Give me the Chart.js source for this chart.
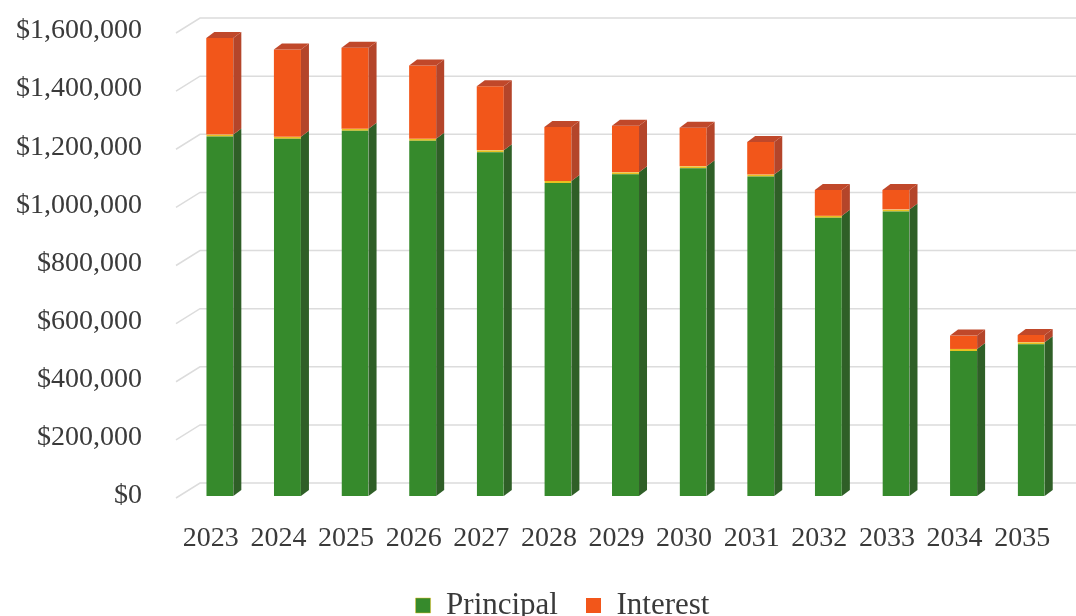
<!DOCTYPE html>
<html>
<head>
<meta charset="utf-8">
<script src="https://cdn.jsdelivr.net/npm/chart.js@4.4.1/dist/chart.umd.min.js"></script>
<style>
  body { margin: 0; background: #fff; }
  canvas { display: block; }
</style>
</head>
<body>
<canvas id="barchart" width="1076" height="616"></canvas>
<script>
var years = ['2023','2024','2025','2026','2027','2028','2029','2030','2031','2032','2033','2034','2035'];
var principal = [1244000, 1236000, 1264000, 1229000, 1190000, 1084000, 1114000, 1135000, 1106000, 964000, 986000, 506000, 529000];
var interest = [332000, 300000, 278000, 252000, 220000, 186000, 160000, 132000, 112000, 89000, 67000, 46000, 25000];
var yTicks = [0, 200000, 400000, 600000, 800000, 1000000, 1200000, 1400000, 1600000];

var textColor = '#3a3a3a';
var serif = 'Liberation Serif';

// back wall grid lines drawn in 3d style
var wallGrid = {
  id: 'wallGrid',
  beforeDatasetsDraw: function(chart) {
    var c = chart.ctx, y = chart.scales.y, a = chart.chartArea;
    c.save();
    c.strokeStyle = '#dcdcdc';
    c.lineWidth = 1.5;
    yTicks.forEach(function(v) {
      var py = y.getPixelForValue(v);
      c.beginPath();
      c.moveTo(a.left - 10, py + 2);
      c.lineTo(a.left + 14, py - 13);
      c.lineTo(chart.width, py - 13);
      c.stroke();
    });
    c.restore();
  }
};

// side and top faces for the columns
var depth = {
  id: 'depth',
  afterDatasetsDraw: function(chart) {
    var c = chart.ctx, dx = 8, dy = 6;
    var sides = ['#2f5f27', '#b4452a'];
    var tops = ['#2f6e28', '#c0482a'];
    chart.data.datasets.forEach(function(ds, di) {
      chart.getDatasetMeta(di).data.forEach(function(bar) {
        var p = bar.getProps(['x', 'y', 'base', 'width'], true);
        var l = p.x - p.width / 2, r = p.x + p.width / 2;
        c.save();
        c.fillStyle = sides[di];
        c.beginPath();
        c.moveTo(r, p.y);
        c.lineTo(r + dx, p.y - dy);
        c.lineTo(r + dx, p.base - dy);
        c.lineTo(r, p.base);
        c.closePath();
        c.fill();
        if (di === chart.data.datasets.length - 1) {
          c.fillStyle = tops[di];
          c.beginPath();
          c.moveTo(l, p.y);
          c.lineTo(l + dx, p.y - dy);
          c.lineTo(r + dx, p.y - dy);
          c.lineTo(r, p.y);
          c.closePath();
          c.fill();
        }
        c.restore();
      });
    });
  }
};

// legend sits a little right of centre in the original
var legendShift = {
  id: 'legendShift',
  afterLayout: function(chart) {
    chart.legend.left += 22;
    chart.legend.right += 22;
  }
};

new Chart(document.getElementById('barchart'), {
  type: 'bar',
  data: {
    labels: years,
    datasets: [
      {
        label: 'Principal',
        data: principal,
        backgroundColor: '#368a2c',
        borderColor: '#e8c020',
        borderWidth: { top: 2, left: 0, right: 0, bottom: 0 },
        borderSkipped: false,
        barPercentage: 0.5,
        categoryPercentage: 0.8
      },
      {
        label: 'Interest',
        data: interest,
        backgroundColor: '#f2561a',
        borderWidth: 0,
        barPercentage: 0.5,
        categoryPercentage: 0.8
      }
    ]
  },
  options: {
    responsive: false,
    animation: false,
    layout: { padding: { top: 0, left: 16, right: 11, bottom: -15 } },
    plugins: {
      tooltip: { enabled: false },
      legend: {
        position: 'bottom',
        labels: {
          color: textColor,
          font: { family: serif, size: 31 },
          boxWidth: 15,
          boxHeight: 15,
          padding: 28
        }
      }
    },
    scales: {
      x: {
        stacked: true,
        grid: { display: false, drawTicks: false },
        border: { display: false },
        afterFit: function(s) { s.height = 66; s.paddingLeft = 0; s.paddingRight = 0; },
        ticks: {
          color: textColor,
          font: { family: serif, size: 28 },
          padding: 26,
          labelOffset: -9,
          maxRotation: 0
        }
      },
      y: {
        stacked: true,
        min: 0,
        max: 1600000,
        grid: { display: false, drawTicks: false },
        border: { display: false },
        afterFit: function(s) { s.width = 170; s.paddingTop = 31; s.paddingBottom = 0; },
        ticks: {
          stepSize: 200000,
          color: textColor,
          font: { family: serif, size: 28 },
          padding: 44,
          callback: function(v) { return '$' + v.toLocaleString('en-US'); }
        }
      }
    }
  },
  plugins: [wallGrid, depth, legendShift]
});
</script>
</body>
</html>
